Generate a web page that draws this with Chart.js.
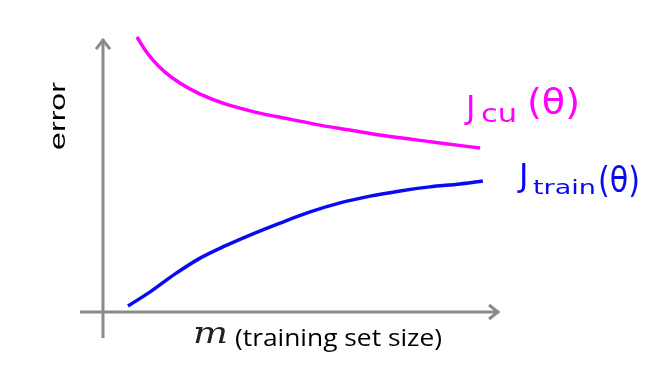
<!DOCTYPE html>
<html>
<head>
<meta charset="utf-8">
<script src="https://cdn.jsdelivr.net/npm/chart.js@4/dist/chart.umd.min.js"></script>
<style>
  html, body { margin: 0; padding: 0; background: #ffffff; }
  canvas { display: block; }
</style>
</head>
<body>
<canvas id="c" width="667" height="376"></canvas>
<script>
// Training set size m (arbitrary units 0..100), error (arbitrary units 0..100)
const cvM      = [8.7, 10.8, 12.8, 15.9, 19.7, 24.9, 31.3, 39.0, 47.9, 55.6, 63.3, 71.0, 78.7, 86.4, 96.7];
const cvErr    = [101.1, 96.3, 92.6, 88.2, 84.2, 80.1, 76.5, 73.5, 70.9, 68.7, 66.9, 65.1, 63.6, 62.1, 60.3];
const trainM   = [6.4, 12.1, 18.5, 24.9, 31.3, 37.7, 45.4, 53.1, 60.8, 68.5, 76.2, 83.8, 91.5, 97.4];
const trainErr = [2.2, 7.4, 14.0, 19.8, 24.3, 28.3, 32.7, 36.8, 40.1, 42.6, 44.5, 46.0, 47.1, 48.2];

const yAxisTitle = "error";
const xAxisVar = "m";
const xAxisTitle = "(training set size)";

const toPts = (xs, ys) => xs.map((x, i) => ({ x: x, y: ys[i] }));

const MAGENTA = "#ff00ff";
const BLUE = "#0a0af0";
const GRAY = "#8a8a8a";

// draw text; if width given, stretch/compress it to span exactly that many pixels
function fitText(ctx, text, x, y, width, font, color) {
  ctx.save();
  ctx.font = font;
  ctx.fillStyle = color;
  ctx.textAlign = "left";
  ctx.textBaseline = "alphabetic";
  const w = ctx.measureText(text).width;
  ctx.translate(x, y);
  if (width) ctx.scale(width / w, 1);
  ctx.fillText(text, 0, 0);
  ctx.restore();
}

const decor = {
  id: "decor",
  beforeDatasetsDraw(chart) {
    const ctx = chart.ctx;
    const xs = chart.scales.x, ys = chart.scales.y;
    const x0 = xs.getPixelForValue(0);
    const y0 = ys.getPixelForValue(0);
    const yTop = ys.getPixelForValue(100.7);
    const xRight = xs.getPixelForValue(101.8);
    ctx.save();
    ctx.strokeStyle = GRAY;
    ctx.lineWidth = 3;
    ctx.lineCap = "butt";
    ctx.beginPath();
    ctx.moveTo(x0, y0 + 26);
    ctx.lineTo(x0, yTop + 1);
    ctx.stroke();
    ctx.beginPath();
    ctx.moveTo(x0 - 23, y0);
    ctx.lineTo(xRight - 1, y0);
    ctx.stroke();
    ctx.lineJoin = "miter";
    ctx.beginPath();
    ctx.moveTo(x0 - 7, yTop + 11);
    ctx.lineTo(x0, yTop + 2);
    ctx.lineTo(x0 + 7, yTop + 11);
    ctx.stroke();
    ctx.beginPath();
    ctx.moveTo(xRight - 11, y0 - 7);
    ctx.lineTo(xRight - 2, y0);
    ctx.lineTo(xRight - 11, y0 + 7);
    ctx.stroke();
    ctx.restore();
  },
  afterDatasetsDraw(chart) {
    const ctx = chart.ctx;
    // y-axis title
    ctx.save();
    ctx.translate(65, 150);
    ctx.rotate(-Math.PI / 2);
    fitText(ctx, yAxisTitle, 0, 0, 68, "22px 'Liberation Sans'", "#000");
    ctx.restore();
    // x-axis title
    fitText(ctx, xAxisVar, 193, 343, 35, "italic 30px 'DejaVu Serif'", "#222");
    fitText(ctx, xAxisTitle, 235, 346, 207, "23px 'Open Sans'", "#000");
    // curve labels (hand-written style)
    fitText(ctx, "J", 466, 118, null, "32px 'DejaVu Sans'", MAGENTA);
    fitText(ctx, "cu", 481, 122, 36, "24px 'DejaVu Sans'", MAGENTA);
    fitText(ctx, "(θ)", 527, 114, 53, "36px 'DejaVu Sans'", MAGENTA);
    fitText(ctx, "J", 519, 186, null, "32px 'DejaVu Sans'", BLUE);
    fitText(ctx, "train", 533, 194, 63, "20px 'DejaVu Sans'", BLUE);
    fitText(ctx, "(θ)", 598, 192, 42, "36px 'DejaVu Sans'", BLUE);
  }
};

new Chart(document.getElementById("c"), {
  type: "scatter",
  data: {
    datasets: [
      {
        label: "Jcv",
        data: toPts(cvM, cvErr),
        showLine: true,
        borderColor: MAGENTA,
        borderWidth: 3.5,
        pointRadius: 0,
        cubicInterpolationMode: "monotone",
        clip: false
      },
      {
        label: "Jtrain",
        data: toPts(trainM, trainErr),
        showLine: true,
        borderColor: BLUE,
        borderWidth: 3.5,
        pointRadius: 0,
        cubicInterpolationMode: "monotone",
        clip: false
      }
    ]
  },
  options: {
    responsive: false,
    animation: false,
    layout: { padding: { left: 103, right: 174, top: 40, bottom: 64 } },
    plugins: { legend: { display: false }, tooltip: { enabled: false } },
    scales: {
      x: { type: "linear", min: 0, max: 100, display: false },
      y: { type: "linear", min: 0, max: 100, display: false }
    }
  },
  plugins: [decor]
});
</script>
</body>
</html>
